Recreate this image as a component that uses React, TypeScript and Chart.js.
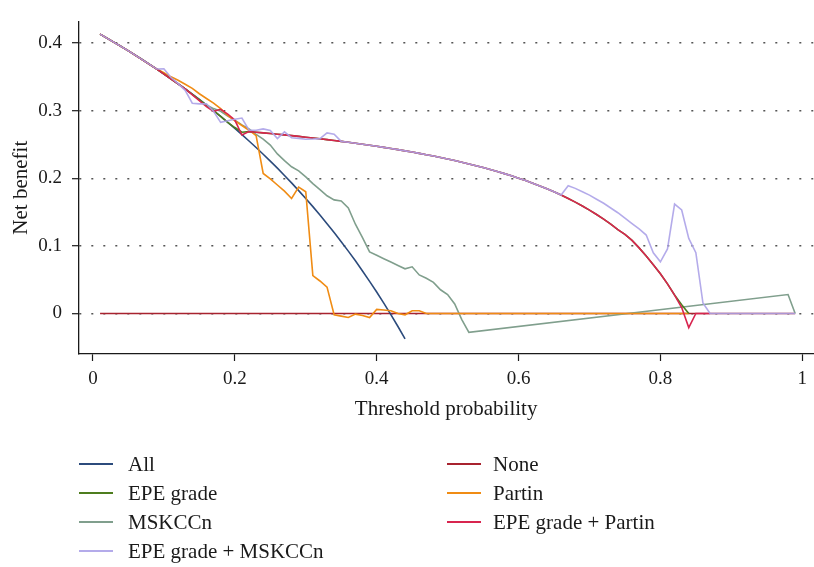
import React, { useEffect, useRef } from "react";
import { Chart, registerables } from "chart.js";
Chart.register(...registerables);

const FONT = "'Liberation Serif', 'Times New Roman', serif";

const X_TICKS = [0, 0.2, 0.4, 0.6, 0.8, 1];
const X_TICK_LABELS = ["0", "0.2", "0.4", "0.6", "0.8", "1"];
const Y_TICKS = [0, 0.1, 0.2, 0.3, 0.4];
const Y_TICK_LABELS = ["0", "0.1", "0.2", "0.3", "0.4"];

const X_TITLE = "Threshold probability";
const Y_TITLE = "Net benefit";

const SERIES_NAMES = ["All", "None", "EPE grade", "Partin", "MSKCCn", "EPE grade + Partin", "EPE grade + MSKCCn"];
const SERIES_COLORS = ["#2c4b7c", "#a8232f", "#4e7d1e", "#f08c14", "#809f8d", "#d8254f", "rgba(172,162,232,0.9)"];
const SERIES_ORDER = [6, 7, 3, 4, 5, 2, 1];

type P = [number, number];

const ALL_PTS: P[] = [
  [0.01, 0.4131], [0.02, 0.4071], [0.03, 0.401], [0.04, 0.3948], [0.05, 0.3884], [0.06, 0.3819], [0.07, 0.3753],
  [0.08, 0.3685], [0.09, 0.3615], [0.1, 0.3544], [0.11, 0.3472], [0.12, 0.3398], [0.13, 0.3322], [0.14, 0.3244],
  [0.15, 0.3165], [0.16, 0.3083], [0.17, 0.3], [0.18, 0.2915], [0.19, 0.2827], [0.2, 0.2738], [0.21, 0.2646],
  [0.22, 0.2551], [0.23, 0.2455], [0.24, 0.2355], [0.25, 0.2253], [0.26, 0.2149], [0.27, 0.2041], [0.28, 0.1931],
  [0.29, 0.1817], [0.3, 0.17], [0.31, 0.158], [0.32, 0.1456], [0.33, 0.1328], [0.34, 0.1197], [0.35, 0.1062],
  [0.36, 0.0922], [0.37, 0.0778], [0.38, 0.0629], [0.39, 0.0475], [0.4, 0.0317], [0.41, 0.0153], [0.42, -0.0017],
  [0.43, -0.0193], [0.44, -0.0375],
];

const NONE_PTS: P[] = [[0.01, 0], [0.99, 0]];

const UPPER_CURVE: P[] = [
  [0.22, 0.269], [0.23, 0.2681], [0.24, 0.2671], [0.25, 0.2661], [0.26, 0.2651], [0.27, 0.2641], [0.28, 0.263],
  [0.29, 0.2619], [0.3, 0.2607], [0.31, 0.2596], [0.32, 0.2584], [0.33, 0.2571], [0.34, 0.2558], [0.35, 0.2545],
  [0.36, 0.2532], [0.37, 0.2518], [0.38, 0.2503], [0.39, 0.2488], [0.4, 0.2473], [0.41, 0.2457], [0.42, 0.244],
  [0.43, 0.2423], [0.44, 0.2405], [0.45, 0.2387], [0.46, 0.2368], [0.47, 0.2348], [0.48, 0.2328], [0.49, 0.2306],
  [0.5, 0.2284], [0.51, 0.2261], [0.52, 0.2237], [0.53, 0.2212], [0.54, 0.2186], [0.55, 0.2158], [0.56, 0.213],
  [0.57, 0.21], [0.58, 0.2068], [0.59, 0.2036], [0.6, 0.2001], [0.61, 0.1965], [0.62, 0.1927], [0.63, 0.1886],
  [0.64, 0.1844], [0.65, 0.1799], [0.66, 0.1751], [0.67, 0.1701], [0.68, 0.1647], [0.69, 0.159], [0.7, 0.1529],
  [0.71, 0.1464], [0.72, 0.1395], [0.73, 0.132], [0.74, 0.1239], [0.75, 0.117], [0.76, 0.108], [0.77, 0.097],
  [0.78, 0.085], [0.79, 0.0721], [0.8, 0.0586], [0.81, 0.0437], [0.82, 0.0272], [0.83, 0.0087],
];

const EARLY_SHARED: P[] = [[0.01, 0.4131], [0.05, 0.3884], [0.09, 0.3615]];

const EPE_HEAD: P[] = [[0.13, 0.3322], [0.16, 0.3083], [0.17, 0.3], [0.18, 0.2915], [0.19, 0.2827], [0.2, 0.275], [0.21, 0.268]];
const EPE_TAIL: P[] = [[0.83, 0.013], [0.84, 0]];

const PARTIN_PTS: P[] = [
  [0.1, 0.356], [0.11, 0.35], [0.12, 0.345], [0.13, 0.339], [0.14, 0.333], [0.15, 0.325], [0.16, 0.318],
  [0.17, 0.311], [0.18, 0.303], [0.19, 0.293], [0.2, 0.285], [0.21, 0.278], [0.22, 0.271], [0.23, 0.263],
  [0.24, 0.207], [0.25, 0.199], [0.26, 0.19], [0.27, 0.181], [0.28, 0.17], [0.29, 0.187], [0.3, 0.18],
  [0.31, 0.056], [0.32, 0.048], [0.33, 0.039], [0.34, -0.002], [0.35, -0.004], [0.36, -0.006], [0.37, -0.001],
  [0.38, -0.003], [0.39, -0.006], [0.4, 0.006], [0.41, 0.005], [0.42, 0.004], [0.43, 0], [0.44, -0.002],
  [0.45, 0.004], [0.46, 0.004], [0.47, 0], [0.84, 0],
];

const MSKCC_PTS: P[] = [
  [0.13, 0.3322], [0.16, 0.3083], [0.17, 0.303], [0.18, 0.299], [0.19, 0.292], [0.2, 0.286], [0.21, 0.279],
  [0.22, 0.273], [0.23, 0.265], [0.24, 0.258], [0.25, 0.249], [0.26, 0.236], [0.27, 0.226], [0.28, 0.217],
  [0.29, 0.211], [0.3, 0.202], [0.31, 0.192], [0.32, 0.183], [0.33, 0.174], [0.34, 0.168], [0.35, 0.1665],
  [0.36, 0.156], [0.37, 0.132], [0.38, 0.112], [0.39, 0.091], [0.4, 0.086], [0.41, 0.081], [0.42, 0.076],
  [0.43, 0.071], [0.44, 0.066], [0.45, 0.069], [0.46, 0.057], [0.47, 0.052], [0.48, 0.046], [0.49, 0.035],
  [0.5, 0.028], [0.51, 0.014], [0.52, -0.009], [0.53, -0.028], [0.98, 0.028], [0.99, 0],
];

const EPE_PARTIN_HEAD: P[] = [[0.13, 0.3322], [0.16, 0.306], [0.17, 0.299], [0.18, 0.302], [0.19, 0.295], [0.2, 0.286], [0.21, 0.264]];
const EPE_PARTIN_TAIL: P[] = [[0.84, -0.021], [0.85, 0], [0.87, 0]];

const EPE_MSKCC_HEAD: P[] = [
  [0.1, 0.362], [0.11, 0.349], [0.12, 0.34], [0.13, 0.33], [0.14, 0.311], [0.15, 0.31], [0.16, 0.31],
  [0.17, 0.299], [0.18, 0.2826], [0.19, 0.285], [0.2, 0.2873], [0.21, 0.289], [0.22, 0.271], [0.23, 0.271],
  [0.24, 0.273], [0.25, 0.2707], [0.26, 0.2586], [0.27, 0.2686], [0.28, 0.26], [0.29, 0.259], [0.3, 0.2577],
  [0.31, 0.258], [0.32, 0.2586], [0.33, 0.267], [0.34, 0.265],
];
const EPE_MSKCC_TAIL: P[] = [
  [0.67, 0.189], [0.68, 0.185], [0.69, 0.18], [0.7, 0.175], [0.71, 0.169], [0.72, 0.163], [0.73, 0.156],
  [0.74, 0.149], [0.75, 0.141], [0.76, 0.133], [0.77, 0.125], [0.78, 0.116], [0.79, 0.0898], [0.8, 0.0764],
  [0.81, 0.0955], [0.82, 0.1617], [0.83, 0.153], [0.84, 0.111], [0.85, 0.0898], [0.86, 0.0154], [0.87, 0],
  [0.99, 0],
];

const between = (a: number, b: number) => UPPER_CURVE.filter(([t]) => t >= a - 1e-9 && t <= b + 1e-9);

const SERIES_PTS: P[][] = [
  ALL_PTS,
  NONE_PTS,
  [...EARLY_SHARED, ...EPE_HEAD, ...between(0.22, 0.82), ...EPE_TAIL],
  [...EARLY_SHARED, ...PARTIN_PTS],
  [...EARLY_SHARED, ...MSKCC_PTS],
  [...EARLY_SHARED, ...EPE_PARTIN_HEAD, ...between(0.22, 0.83), ...EPE_PARTIN_TAIL],
  [...EARLY_SHARED, ...EPE_MSKCC_HEAD, ...between(0.35, 0.66), ...EPE_MSKCC_TAIL],
];

const W = 814;
const H = 567;

export default function App() {
  const ref = useRef<HTMLCanvasElement | null>(null);

  useEffect(() => {
    if (!ref.current) return;
    const chart = new Chart(ref.current, {
      type: "line",
      data: {
        datasets: SERIES_NAMES.map((name, i) => ({
          label: name,
          data: SERIES_PTS[i].map(([x, y]) => ({ x, y })),
          borderColor: SERIES_COLORS[i],
          backgroundColor: SERIES_COLORS[i],
          borderWidth: 1.6,
          pointRadius: 0,
          tension: 0,
          fill: false,
          order: SERIES_ORDER[i],
        })),
      },
      options: {
        responsive: false,
        animation: false,
        devicePixelRatio: 1,
        layout: { padding: { top: 12, left: 0, right: 0, bottom: 143 } },
        plugins: { legend: { display: false }, tooltip: { enabled: false } },
        scales: {
          x: {
            type: "linear",
            min: -0.0197,
            max: 1.0155,
            afterBuildTicks: (s: any) => {
              s.ticks = X_TICKS.map((v) => ({ value: v }));
            },
            afterFit: (s: any) => {
              s.height = 70;
            },
            ticks: {
              callback: (_v: any, i: number) => X_TICK_LABELS[i],
              font: { family: FONT, size: 19 },
              color: "#1a1a1a",
              padding: 7,
              maxRotation: 0,
              autoSkip: false,
            },
            grid: { drawOnChartArea: false, drawTicks: true, tickLength: 7, tickColor: "#1a1a1a", tickWidth: 1.2 },
            border: { display: true, color: "#1a1a1a", width: 1.3 },
            title: { display: true, text: X_TITLE, font: { family: FONT, size: 21 }, color: "#1a1a1a", padding: { top: 0, bottom: 2 } },
          },
          y: {
            type: "linear",
            min: -0.06,
            max: 0.432,
            afterBuildTicks: (s: any) => {
              s.ticks = Y_TICKS.map((v) => ({ value: v }));
            },
            afterFit: (s: any) => {
              s.width = 79;
            },
            ticks: {
              callback: (_v: any, i: number) => Y_TICK_LABELS[i],
              font: { family: FONT, size: 19 },
              color: "#1a1a1a",
              padding: 10,
              autoSkip: false,
            },
            grid: {
              drawOnChartArea: true,
              drawTicks: true,
              color: "#555",
              lineWidth: 1.4,
              tickLength: 7,
              tickColor: "#1a1a1a",
              tickWidth: 1.2,
            },
            border: { display: true, color: "#1a1a1a", width: 1.3, dash: [2, 10] },
            title: { display: true, text: Y_TITLE, font: { family: FONT, size: 21 }, color: "#1a1a1a", padding: { top: 9, bottom: 0 } },
          },
        },
      } as any,
    });
    return () => chart.destroy();
  }, []);

  const colText = [128, 493];
  const colLine = [79, 447];

  return (
    <div style={{ position: "absolute", left: 0, top: 0, width: W, height: H, background: "#fff" }}>
      <canvas ref={ref} width={W} height={H} style={{ width: W, height: H, display: "block" }} />
      {SERIES_NAMES.map((name, i) => {
        const col = i % 2;
        const row = Math.floor(i / 2);
        const cy = 464 + row * 29;
        return (
          <div key={name}>
            <div
              style={{
                position: "absolute",
                left: colLine[col],
                top: cy - 1,
                width: 34,
                height: 0,
                borderTop: `2px solid ${SERIES_COLORS[i]}`,
              }}
            />
            <div
              style={{
                position: "absolute",
                left: colText[col],
                top: cy - 14,
                height: 28,
                lineHeight: "28px",
                fontFamily: FONT,
                fontSize: 21,
                color: "#1a1a1a",
                whiteSpace: "nowrap",
              }}
            >
              {name}
            </div>
          </div>
        );
      })}
    </div>
  );
}
